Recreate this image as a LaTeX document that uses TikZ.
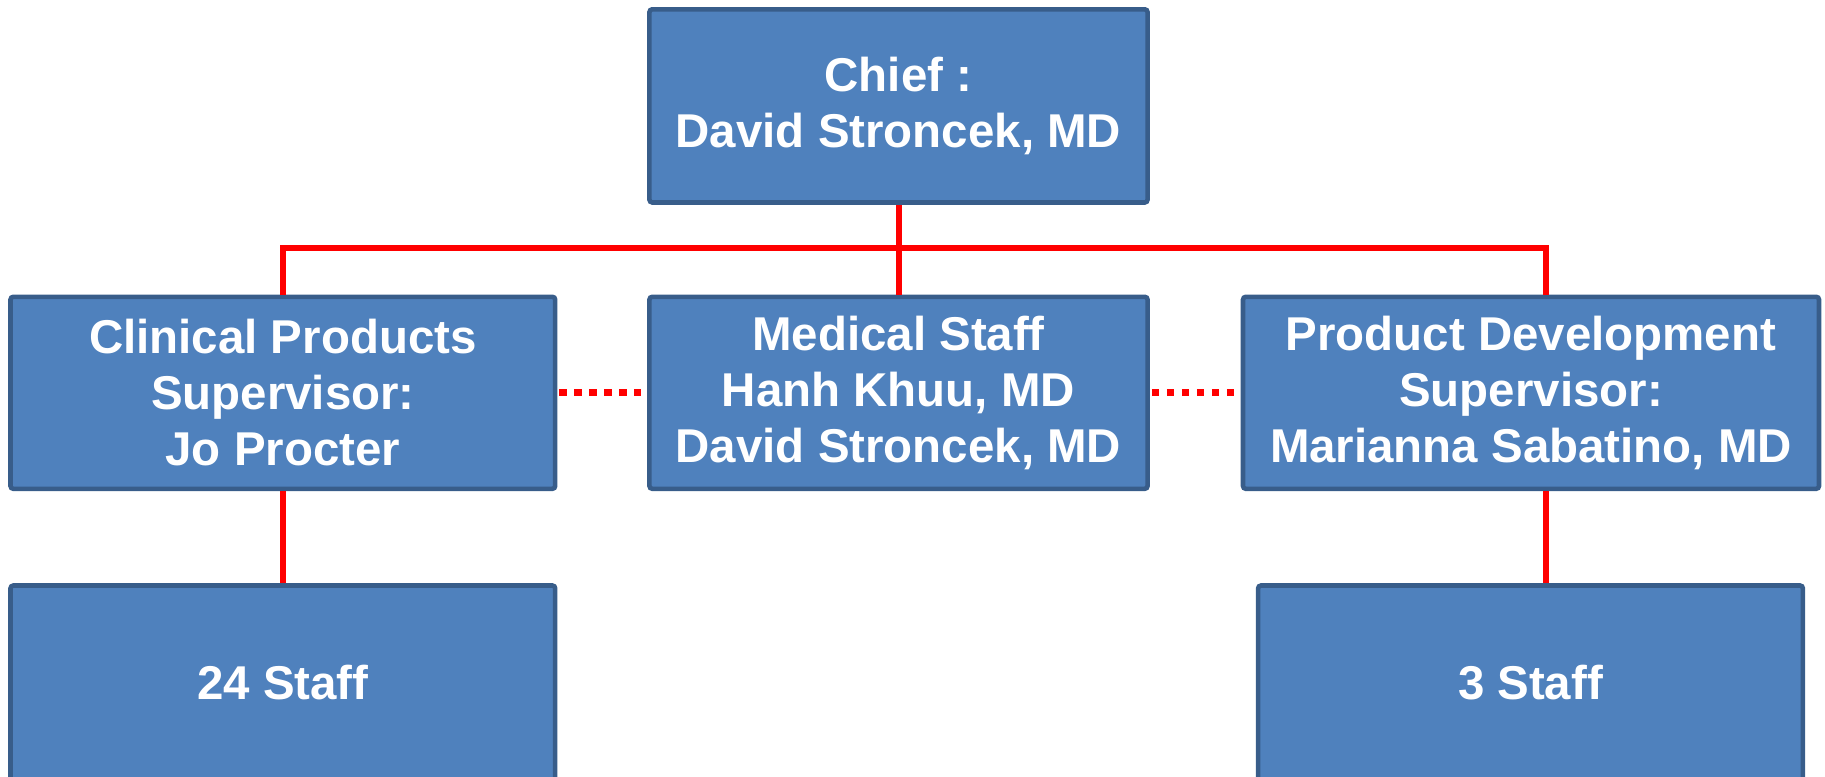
\documentclass[tikz,border=0pt]{standalone}
\usepackage{fontspec}
\setmainfont{Liberation Sans}
\definecolor{boxfill}{HTML}{4F81BD}
\definecolor{boxline}{HTML}{385D8A}
\definecolor{redline}{HTML}{FF0000}
\begin{document}
\begin{tikzpicture}[
  orgbox/.style={draw=boxline, fill=boxfill, line width=1.3pt, rounded corners=0.8pt,
    text=white, font=\bfseries\fontsize{13.5}{15.9}\selectfont, align=center,
    inner sep=0pt, anchor=center},
  link/.style={draw=redline, line width=1.7pt},
  dotlink/.style={draw=redline, line width=2.1pt, dash pattern=on 0.075cm off 0.075cm}
]
\useasboundingbox (0,0) rectangle (18.25,7.76);
\node[orgbox, minimum width=4.981cm, minimum height=1.932cm] (chief) at (8.985,6.701) {Chief :\\David Stroncek, MD};
\node[orgbox, minimum width=5.447cm, minimum height=1.92cm] (clin) at (2.8285,3.832) {Clinical Products\\Supervisor:\\Jo Procter};
\node[orgbox, minimum width=4.981cm, minimum height=1.92cm] (med) at (8.985,3.832) {Medical Staff\\Hanh Khuu, MD\\David Stroncek, MD};
\node[orgbox, minimum width=5.76cm, minimum height=1.92cm] (prod) at (15.31,3.832) {Product Development\\Supervisor:\\Marianna Sabatino, MD};
\node[orgbox, minimum width=5.447cm, minimum height=1.95cm] (s24) at (2.8285,0.93) {24 Staff};
\node[orgbox, minimum width=5.447cm, minimum height=1.95cm] (s3) at (15.305,0.93) {3 Staff};
\coordinate (pr) at (15.457,5.28);
\draw[link] (chief.south) -- (med.north);
\draw[link] (clin.north) |- (pr) -- (pr |- prod.north);
\draw[link] (clin.south) -- (s24.north);
\draw[link] (pr |- prod.south) -- (pr |- s3.north);
\draw[dotlink] ([xshift=0.02cm]clin.east) -- ([xshift=-0.06cm]med.west);
\draw[dotlink] ([xshift=0.02cm]med.east) -- ([xshift=-0.06cm]prod.west);
\end{tikzpicture}
\end{document}
